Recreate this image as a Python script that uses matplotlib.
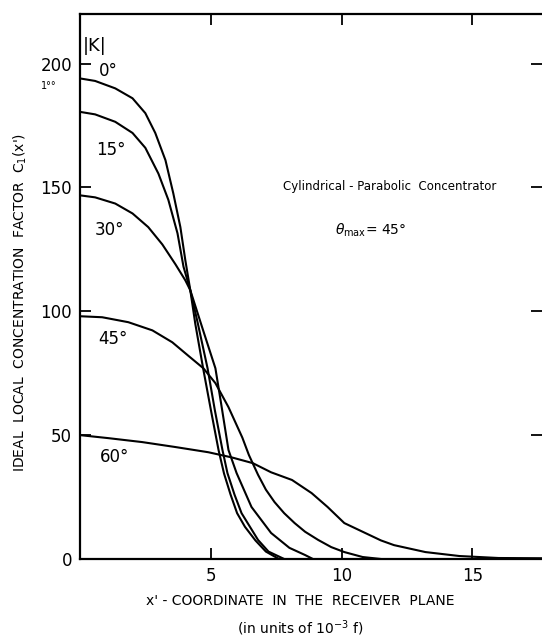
#!/usr/bin/env python3

from matplotlib import pyplot as plt

import numpy as np


# curve readings, x' in units of 1e-3 f, C1 values
x_0 = [0, 0.57, 1.34, 2.0, 2.49, 2.87, 3.26, 3.56, 3.83, 4.02, 4.21, 4.4, 4.7,
       5.0, 5.29, 5.5, 5.75, 6.0, 6.3, 6.7, 7.1, 7.6]
c_0 = [194, 193, 190, 186, 180, 172, 161, 147.6, 134, 120.6, 108.5, 95, 77,
       60, 44, 34.5, 26, 18.5, 13, 7.5, 3, 0]

x_15 = [0, 0.57, 1.34, 2.0, 2.49, 2.99, 3.37, 3.72, 3.95, 4.21, 4.5, 4.87,
        5.15, 5.44, 5.63, 5.9, 6.17, 6.8, 7.2, 7.8]
c_15 = [180.5, 179.5, 176.5, 172, 166, 155.6, 145, 131.5, 118, 108.5, 95, 77,
        60, 44, 34.7, 26, 18.5, 7.7, 3, 0]

x_30 = [0, 0.57, 1.34, 2.0, 2.6, 3.14, 3.64, 4.02, 4.21, 4.71, 5.17, 5.4,
        5.67, 5.98, 6.55, 7.3, 8.0, 8.6, 8.9]
c_30 = [146.8, 146, 143.5, 139.5, 134, 127, 119, 112.5, 108.5, 92, 77, 62,
        44, 34.7, 21, 10.5, 4.5, 1.6, 0]

x_45 = [0, 0.84, 1.84, 2.76, 3.52, 4.14, 4.71, 5.17, 5.67, 6.2, 6.45, 6.8,
        7.1, 7.43, 7.8, 8.2, 8.6, 9.1, 9.6, 10.1, 10.8, 11.5]
c_45 = [98, 97.6, 95.6, 92.3, 87.5, 82, 77, 71, 61.3, 49, 42, 34,
        28, 23, 18.5, 14.5, 11, 7.7, 4.8, 2.8, 0.8, 0]

x_60 = [0, 1.07, 2.37, 3.64, 4.9, 5.8, 6.6, 7.3, 8.1, 8.85, 9.46, 10.1, 10.9,
        11.5, 12.0, 13.2, 14.5, 16, 17.7]
c_60 = [50, 48.8, 47.2, 45.2, 43.1, 41, 38.7, 35, 31.9, 26.6, 21, 14.5, 10.5,
        7.5, 5.6, 2.8, 1.2, 0.4, 0.3]

curves = [(x_0, c_0), (x_15, c_15), (x_30, c_30), (x_45, c_45), (x_60, c_60)]
angle_labels = ['0°', '15°', '30°', '45°', '60°']
label_pos = [(1.07, 197), (1.19, 165), (1.1, 133), (1.26, 89), (1.3, 41)]

xticks = [5, 10, 15]
yticks = [0, 50, 100, 150, 200]


fig = plt.figure(figsize=(5.42, 6.39), dpi=100)
ax = fig.add_axes([0.148, 0.1252, 0.852, 0.8528])

for xs, cs in curves:
    ax.plot(np.array(xs), np.array(cs), color='black', linewidth=1.5)

for text, (tx, ty) in zip(angle_labels, label_pos):
    ax.text(tx, ty, text, fontsize=12, ha='center', va='center')

ax.text(0.54, 207, '|K|', fontsize=13, ha='center', va='center')
ax.text(-1.2, 191, '1°°', fontsize=7, ha='center', va='center', clip_on=False)

ax.text(11.84, 150.4, 'Cylindrical - Parabolic  Concentrator', fontsize=8.5,
        ha='center', va='center')
ax.text(11.1, 132.7, r'$\theta_{\rm max}$= 45°', fontsize=10, ha='center', va='center')

ax.set_xlim(0, 17.66)
ax.set_ylim(0, 220)
ax.set_xticks(xticks)
ax.set_yticks(yticks)
ax.tick_params(direction='in', top=True, right=True, length=8, width=1.3,
               labelsize=12, pad=6)
ax.spines['right'].set_visible(False)
for side in ['left', 'top', 'bottom']:
    ax.spines[side].set_linewidth(1.6)

fig.text(20 / 542, 1 - 302 / 639, "IDEAL  LOCAL  CONCENTRATION  FACTOR  C$_1$(x')",
         rotation=90, fontsize=10, ha='center', va='center')
fig.text(300 / 542, 1 - 601 / 639, "x' - COORDINATE  IN  THE  RECEIVER  PLANE",
         fontsize=10, ha='center', va='center')
fig.text(300 / 542, 1 - 628 / 639, r'(in units of 10$^{-3}$ f)',
         fontsize=10, ha='center', va='center')

fig.savefig('out.png', dpi=100)
